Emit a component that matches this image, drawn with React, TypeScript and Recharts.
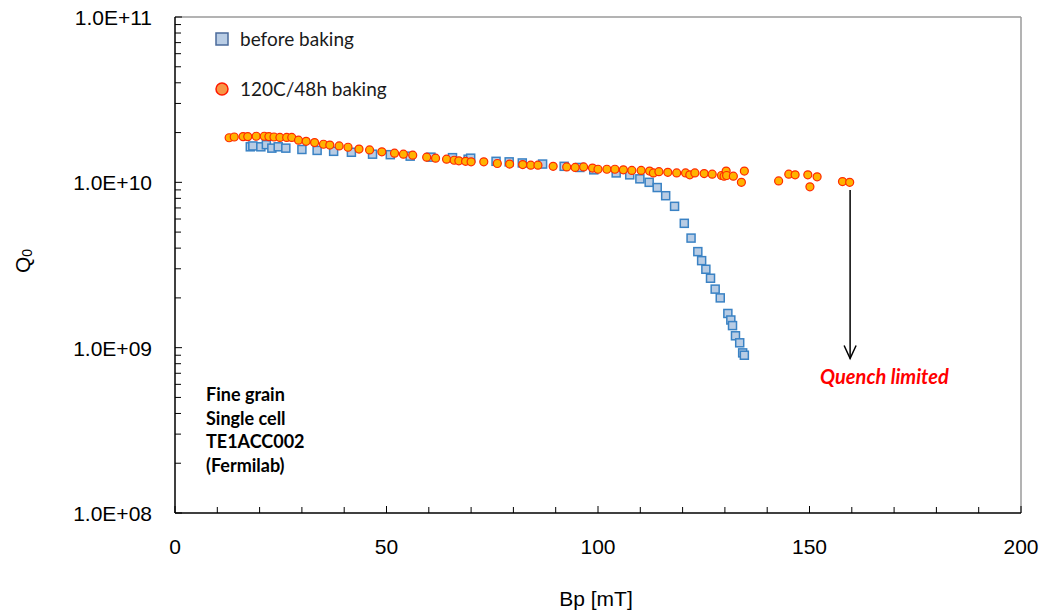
import React from 'react';
import { ComposedChart, Scatter, XAxis, YAxis, ReferenceLine, ReferenceDot } from 'recharts';

// before baking: Bp [mT], Q0 (units of 1e10)
const beforeBp = [17.8, 18.4, 20.3, 21.6, 22.9, 24.4, 26.2, 30.0, 33.6, 37.5, 41.7, 46.7, 50.9, 55.6, 60.5, 65.6, 69.3, 69.9, 75.9, 79.0, 82.1, 86.9, 92.0, 95.7, 99.0, 104.3, 107.5, 109.9, 112.1, 114.0, 116.0, 118.1, 120.4, 122.0, 123.6, 124.5, 125.5, 126.6, 127.7, 128.9, 130.7, 131.4, 131.8, 132.5, 133.5, 134.2, 134.6];
const beforeQ = [1.64, 1.66, 1.64, 1.69, 1.61, 1.64, 1.61, 1.58, 1.56, 1.54, 1.52, 1.48, 1.47, 1.44, 1.42, 1.41, 1.38, 1.40, 1.34, 1.33, 1.31, 1.29, 1.25, 1.23, 1.19, 1.14, 1.11, 1.05, 1.00, 0.93, 0.83, 0.716, 0.565, 0.46, 0.381, 0.336, 0.298, 0.263, 0.226, 0.200, 0.161, 0.147, 0.136, 0.118, 0.107, 0.093, 0.090];

// 120C/48h baking
const bakedBp = [12.8, 14.0, 16.1, 17.2, 19.2, 21.1, 22.2, 23.4, 24.8, 26.4, 27.6, 29.2, 31.0, 33.0, 35.1, 36.6, 38.8, 40.9, 43.5, 46.0, 48.9, 51.9, 54.0, 56.2, 59.5, 61.6, 64.2, 66.0, 67.1, 68.7, 70.0, 73.0, 76.2, 79.1, 82.2, 84.1, 85.8, 89.4, 92.6, 94.6, 96.6, 98.7, 100.0, 102.1, 104.0, 106.0, 108.0, 110.2, 112.2, 113.1, 114.4, 116.5, 118.6, 120.7, 121.7, 122.9, 125.1, 127.0, 129.2, 129.8, 130.3, 130.4, 132.0, 133.9, 134.6, 142.7, 145.1, 146.6, 149.6, 150.1, 151.8, 157.8, 159.5];
const bakedQ = [1.86, 1.88, 1.89, 1.89, 1.90, 1.90, 1.89, 1.88, 1.87, 1.87, 1.87, 1.80, 1.77, 1.74, 1.70, 1.68, 1.66, 1.63, 1.59, 1.57, 1.53, 1.50, 1.48, 1.46, 1.42, 1.40, 1.38, 1.36, 1.35, 1.34, 1.33, 1.33, 1.30, 1.29, 1.28, 1.27, 1.27, 1.25, 1.24, 1.23, 1.24, 1.22, 1.20, 1.20, 1.20, 1.19, 1.18, 1.18, 1.17, 1.14, 1.16, 1.15, 1.14, 1.14, 1.11, 1.14, 1.13, 1.12, 1.10, 1.09, 1.17, 1.10, 1.09, 1.00, 1.17, 1.02, 1.12, 1.11, 1.11, 0.94, 1.08, 1.01, 1.00];

const xMajorTicks = [0, 50, 100, 150, 200];
const xAllTicks = [0, 10, 20, 30, 40, 50, 60, 70, 80, 90, 100, 110, 120, 130, 140, 150, 160, 170, 180, 190, 200];
const yMajorTicks = [1e8, 1e9, 1e10, 1e11];
const yMinorMult = [2, 3, 4, 5, 6, 7, 8, 9];
const yAllTicks: number[] = [];
[1e8, 1e9, 1e10].forEach((d) => {
  yAllTicks.push(d);
  yMinorMult.forEach((m) => yAllTicks.push(d * m));
});
yAllTicks.push(1e11);

const arrowFrom = { x: 159.6, y: 0.9e10 };
const arrowTo = { x: 159.6, y: 8.6e8 };

const beforeData = beforeBp.map((x, i) => ({ x, y: beforeQ[i] * 1e10 }));
const bakedData = bakedBp.map((x, i) => ({ x, y: bakedQ[i] * 1e10 }));

const fmtY = (v: number) => {
  const e = Math.round(Math.log10(v));
  return `1.0E+${e < 10 ? '0' + e : e}`;
};

const TICK_FONT = '"Liberation Sans", Arial, sans-serif';
const TEXT_FONT = 'Lato, "Open Sans", sans-serif';

const YTick = (props: any) => {
  const { x, y, payload } = props;
  const v = payload.value;
  const major = yMajorTicks.some((m) => Math.abs(m - v) / m < 1e-6);
  return (
    <g>
      <line x1={x} x2={x + (major ? 7 : 6)} y1={y} y2={y} stroke="#000" strokeWidth={1} />
      {major && (
        <text x={x - 23} y={y + 8} textAnchor="end" fontSize={21} fontFamily={TICK_FONT} fill="#000">
          {fmtY(v)}
        </text>
      )}
    </g>
  );
};

const XTick = (props: any) => {
  const { x, y, payload } = props;
  const v = payload.value;
  const major = xMajorTicks.includes(v);
  return (
    <g>
      <line x1={x} x2={x} y1={y} y2={y - (major ? 7 : 6)} stroke="#000" strokeWidth={1} />
      {major && (
        <text x={x} y={y + 41} textAnchor="middle" fontSize={21} fontFamily={TICK_FONT} fill="#000">
          {v}
        </text>
      )}
    </g>
  );
};

const SquareShape = (props: any) => {
  const { cx, cy } = props;
  if (cx == null || cy == null) return null;
  return <rect x={cx - 4} y={cy - 4} width={8} height={8} fill="#b8cce4" stroke="#3a82c4" strokeWidth={1.5} />;
};

const CircleShape = (props: any) => {
  const { cx, cy } = props;
  if (cx == null || cy == null) return null;
  return <circle cx={cx} cy={cy} r={4} fill="#ffb300" stroke="#ff2a00" strokeWidth={1.2} />;
};

const ArrowHead = (props: any) => {
  const { cx, cy } = props;
  if (cx == null || cy == null) return null;
  return <polyline points={`${cx - 6},${cy - 13} ${cx},${cy} ${cx + 6},${cy - 13}`} fill="none" stroke="#000" strokeWidth={1.5} />;
};

export default function App() {
  return (
    <div style={{ position: 'fixed', left: 0, top: 0, width: 1044, height: 613, background: '#fff' }}>
      <ComposedChart width={1044} height={613} margin={{ top: 17, right: 23, bottom: 40, left: 75 }}>
        <XAxis
          type="number"
          dataKey="x"
          domain={[0, 200]}
          ticks={xAllTicks}
          interval={0}
          tickSize={0}
          tickMargin={0}
          tick={<XTick />}
          axisLine={{ stroke: '#000', strokeWidth: 1.5 }}
          tickLine={false}
          height={60}
          allowDataOverflow
        />
        <YAxis
          type="number"
          dataKey="y"
          scale="log"
          domain={[1e8, 1e11]}
          ticks={yAllTicks}
          interval={0}
          tickSize={0}
          tickMargin={0}
          tick={<YTick />}
          axisLine={{ stroke: '#000', strokeWidth: 1.5 }}
          tickLine={false}
          width={100}
          allowDataOverflow
        />
        <ReferenceLine x={200} stroke="#9a9a9a" strokeWidth={1.5} ifOverflow="visible" />
        <ReferenceLine y={1e11} stroke="#9a9a9a" strokeWidth={1.5} ifOverflow="visible" />
        <Scatter data={beforeData} dataKey="y" shape={<SquareShape />} isAnimationActive={false} />
        <Scatter data={bakedData} dataKey="y" shape={<CircleShape />} isAnimationActive={false} />
        <ReferenceLine segment={[arrowFrom, arrowTo]} stroke="#000" strokeWidth={1.5} ifOverflow="visible" />
        <ReferenceDot x={arrowTo.x} y={arrowTo.y} shape={<ArrowHead />} ifOverflow="visible" />
      </ComposedChart>
      <svg width={1044} height={613} style={{ position: 'absolute', left: 0, top: 0, pointerEvents: 'none' }}>
        <rect x={216} y={33} width={12} height={12} fill="#b9cde5" stroke="#4a6a9a" strokeWidth={1.5} />
        <text x={240} y={46} fontSize={19} fontFamily={TEXT_FONT} fill="#1a1a1a">before baking</text>
        <circle cx={222} cy={89} r={6} fill="#f79646" stroke="#ff1a00" strokeWidth={1.5} />
        <text x={240} y={96} fontSize={19} fontFamily={TEXT_FONT} fill="#1a1a1a">120C/48h baking</text>
        <g fontSize={18} fontWeight="bold" fontFamily={TEXT_FONT} fill="#000">
          <text x={206} y={401}>Fine grain</text>
          <text x={206} y={425}>Single cell</text>
          <text x={206} y={448}>TE1ACC002</text>
          <text x={206} y={472}>(Fermilab)</text>
        </g>
        <text x={820} y={384} fontSize={20} fontWeight="bold" fontStyle="italic" fontFamily={TEXT_FONT} fill="#ff0000">Quench limited</text>
        <text x={596} y={606} textAnchor="middle" fontSize={21} fontFamily={TICK_FONT} fill="#000">Bp [mT]</text>
        <text transform="translate(30,273) rotate(-90)" fontSize={21} fontFamily={TICK_FONT} fill="#000">
          Q<tspan fontSize={14} dy={2}>0</tspan>
        </text>
      </svg>
    </div>
  );
}
